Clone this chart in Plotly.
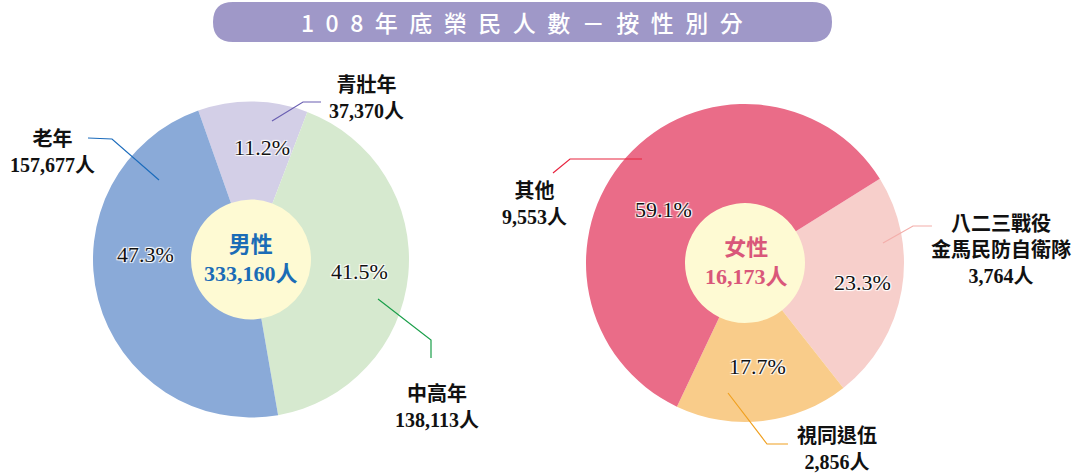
import plotly.graph_objects as go

# ---------------- data ----------------
title_text = "108年底榮民人數－按性別分"

male_label = "男性"
male_categories = ["青壯年", "中高年", "老年"]
male_values = [37370, 138113, 157677]
male_colors = ["#d3cfe7", "#d6e9cf", "#8aaad8"]
male_line_colors = ["#6a5fb2", "#1a9f4a", "#1c6cbc"]

female_label = "女性"
female_categories = ["八二三戰役<br>金馬民防自衛隊", "視同退伍", "其他"]
female_values = [3764, 2856, 9553]
female_colors = ["#f7cfcb", "#f9cc8a", "#ea6c88"]
female_line_colors = ["#f3aeaa", "#f0a020", "#e8243f"]

W, H = 1083, 474


def px(x):
    return x / W


def py(y):
    return 1 - y / H


SERIF_CJK = "Liberation Serif, Noto Sans CJK TC, serif"
SANS_CJK = "Noto Sans CJK TC, sans-serif"

fig = go.Figure()

# pie geometry (pixels)
L_CX, L_CY, L_R = 251, 259.5, 158
R_CX, R_CY, R_R = 745, 263, 159
HOLE_R = 60


def add_pie(values, labels, colors, cx, cy, r, rotation):
    fig.add_trace(go.Pie(
        values=values,
        labels=labels,
        marker=dict(colors=colors, line=dict(width=0)),
        sort=False,
        direction="clockwise",
        rotation=rotation,
        hole=HOLE_R / r,
        textinfo="none",
        hoverinfo="label+value+percent",
        domain=dict(x=[px(cx - r), px(cx + r)], y=[py(cy + r), py(cy - r)]),
        showlegend=False,
    ))


add_pie(male_values, male_categories, male_colors, L_CX, L_CY, L_R, 340.5)
add_pie(female_values, female_categories, female_colors, R_CX, R_CY, R_R, 58)

shapes = []
annotations = []


def ann(x, y, text, font):
    annotations.append(dict(x=px(x), y=py(y), xref="paper", yref="paper", showarrow=False,
                            xanchor="center", yanchor="middle", text=text, font=font))


# title banner
shapes.append(dict(
    type="path", xref="paper", yref="paper",
    path=("M {a} {b} L {c} {b} Q {d} {b} {d} {e} Q {d} {f} {c} {f} L {a} {f} Q {g} {f} {g} {e} Q {g} {b} {a} {b} Z").format(
        a=px(233), b=py(2), c=px(812), d=px(832), e=py(22), f=py(42), g=px(213)),
    fillcolor="#9f98c8", line=dict(width=0), layer="above"))
ann(522, 22, "\u2002".join(list(title_text)),
    dict(family=SANS_CJK, size=23, color="white", weight=500))

# yellow centre discs
for cx, cy in [(L_CX, L_CY), (R_CX, R_CY)]:
    shapes.append(dict(type="circle", xref="paper", yref="paper",
                       x0=px(cx - HOLE_R - 1), x1=px(cx + HOLE_R + 1),
                       y0=py(cy + HOLE_R + 1), y1=py(cy - HOLE_R - 1),
                       fillcolor="#fefad3", line=dict(width=0), layer="below"))

# centre texts
ann(251, 259, "<b>%s</b><br><b>%s人</b>" % (male_label, format(sum(male_values), ",")),
    dict(family=SERIF_CJK, size=22, color="#1a6cb6"))
ann(746, 262, "<b>%s</b><br><b>%s人</b>" % (female_label, format(sum(female_values), ",")),
    dict(family=SERIF_CJK, size=22, color="#d9577a"))

# percentage label positions (pixels)
male_pct_pos = [(262, 148), (359, 271), (145, 254)]
female_pct_pos = [(862, 282), (757, 366), (663, 210)]

# outside labels: (centre x, centre y) and leader line points (pixels)
male_label_pos = [(366, 98), (437, 406), (52, 152)]
male_leaders = [
    [(272, 121), (303, 102), (321, 102)],
    [(378, 299), (431, 340), (431, 358)],
    [(159, 180), (112, 139), (88, 138)],
]
female_label_pos = [(1001, 250), (837, 449), (534, 204)]
female_leaders = [
    [(883, 243), (913, 226), (932, 226)],
    [(728, 393), (767, 444), (788, 444)],
    [(553, 173), (570, 159), (642, 159)],
]


def add_labels(cats, vals, pos, leaders, lcolors, pct_pos):
    total = sum(vals)
    for cat, v, (x, y), pts, lc, (tx, ty) in zip(cats, vals, pos, leaders, lcolors, pct_pos):
        ann(x, y, "<b>%s</b><br><b>%s人</b>" % (cat, format(v, ",")),
            dict(family=SERIF_CJK, size=20, color="#111111"))
        path = "M " + " L ".join("%f %f" % (px(a), py(b)) for a, b in pts)
        shapes.append(dict(type="path", xref="paper", yref="paper", path=path,
                           line=dict(color=lc, width=1.2), layer="above"))
        ann(tx, ty, "%.1f%%" % (100.0 * v / total),
            dict(family="Liberation Serif, serif", size=22, color="#111111",
                 shadow="1px 1px 1px white, -1px -1px 1px white, 1px -1px 1px white, -1px 1px 1px white"))


add_labels(male_categories, male_values, male_label_pos, male_leaders, male_line_colors, male_pct_pos)
add_labels(female_categories, female_values, female_label_pos, female_leaders, female_line_colors, female_pct_pos)

fig.update_layout(
    width=W, height=H, autosize=False,
    margin=dict(l=0, r=0, t=0, b=0),
    paper_bgcolor="white", plot_bgcolor="white",
    shapes=shapes, annotations=annotations,
    showlegend=False,
)

fig.write_html("out.html", config={"displayModeBar": False},
               post_script="document.body.style.margin='0';document.body.style.overflow='hidden';")
